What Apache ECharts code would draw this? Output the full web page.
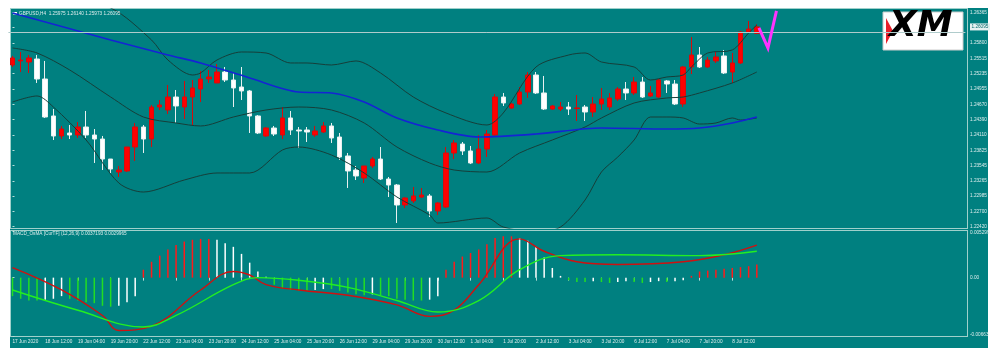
<!DOCTYPE html>
<html><head><meta charset="utf-8">
<script src="https://cdn.jsdelivr.net/npm/echarts@6/dist/echarts.min.js"></script>
<style>
html,body{margin:0;padding:0;background:#fff;}
#bg{position:absolute;left:10px;top:8px;width:978px;height:340px;background:#008080;}
.frame{position:absolute;border:1px solid #9fd0cb;box-sizing:border-box;}
#main{position:absolute;left:0;top:0;width:1000px;height:364px;}
</style></head><body>
<div id="bg"></div>
<div class="frame" style="left:10px;top:8px;width:958px;height:221px"></div>
<div class="frame" style="left:10px;top:230px;width:958px;height:107px"></div>
<div id="main"></div>
<script>
// ---- data ----
const tickLabels = ['17 Jun 2020','18 Jun 12:00','19 Jun 04:00','19 Jun 20:00','22 Jun 12:00','23 Jun 04:00','23 Jun 20:00','24 Jun 12:00','25 Jun 04:00','25 Jun 20:00','26 Jun 12:00','29 Jun 04:00','29 Jun 20:00','30 Jun 12:00','1 Jul 04:00','1 Jul 20:00','2 Jul 12:00','3 Jul 04:00','3 Jul 20:00','6 Jul 12:00','7 Jul 04:00','7 Jul 20:00','8 Jul 12:00'];
const barsPerTick = 4;
const slotCount = 117;
const priceTicks = [1.26365,1.25800,1.25515,1.25235,1.24955,1.24670,1.24390,1.24110,1.23825,1.23545,1.23265,1.22985,1.22700,1.22420];
const currentPrice = 1.26095;
const macdTicks = [0.005299, 0, -0.00663];

const opens  = [1.25395,1.25469,1.25450,1.25505,1.25137,1.24457,1.24089,1.24144,1.24107,1.24254,1.24107,1.24033,1.23665,1.23426,1.23445,1.23886,1.24254,1.24033,1.24622,1.24567,1.24806,1.24622,1.24806,1.24953,1.25137,1.25064,1.25266,1.25119,1.24990,1.24917,1.24457,1.24089,1.24236,1.24107,1.24420,1.24199,1.24199,1.24107,1.24162,1.24273,1.24070,1.23721,1.23463,1.23316,1.23537,1.23665,1.23297,1.23187,1.22819,1.22893,1.22966,1.22985,1.22709,1.22782,1.23776,1.23941,1.23813,1.23592,1.23849,1.24107,1.24806,1.24604,1.24677,1.24898,1.25211,1.24880,1.24585,1.24585,1.24622,1.24595,1.24622,1.24530,1.24677,1.24622,1.24769,1.24953,1.24880,1.25082,1.24825,1.24806,1.25101,1.25045,1.24677,1.25358,1.25579,1.25358,1.25469,1.25561,1.25266,1.25432,1.26002,1.25975];
const closes = [1.25524,1.25487,1.25524,1.25137,1.24438,1.24089,1.24217,1.24107,1.24254,1.24107,1.24033,1.23665,1.23481,1.23463,1.23886,1.24254,1.24033,1.24622,1.24659,1.24806,1.24641,1.24806,1.24972,1.25137,1.25174,1.25266,1.25119,1.24972,1.24917,1.24457,1.24144,1.24236,1.24125,1.24420,1.24199,1.24181,1.24162,1.24181,1.24273,1.24052,1.23702,1.23445,1.23353,1.23537,1.23665,1.23297,1.23187,1.22819,1.22948,1.22985,1.23003,1.22709,1.22856,1.23776,1.23960,1.23813,1.23592,1.23849,1.24125,1.24806,1.24696,1.24677,1.24898,1.25211,1.24880,1.24585,1.24641,1.24622,1.24585,1.24604,1.24530,1.24677,1.24769,1.24788,1.24953,1.24880,1.25082,1.24806,1.24880,1.25119,1.25045,1.24677,1.25358,1.25579,1.25358,1.25487,1.25542,1.25248,1.25432,1.26002,1.26057,1.26095];
const lows   = [1.25358,1.25266,1.25248,1.25064,1.24420,1.24015,1.24033,1.24033,1.24052,1.24052,1.23592,1.23463,1.23408,1.23334,1.23426,1.23629,1.23776,1.23886,1.24567,1.24493,1.24328,1.24401,1.24291,1.24714,1.25064,1.25064,1.25082,1.24622,1.24751,1.24144,1.24125,1.24070,1.24089,1.24033,1.24107,1.23868,1.23978,1.24070,1.24144,1.23960,1.23647,1.23132,1.23279,1.23224,1.23500,1.23279,1.22966,1.22488,1.22764,1.22856,1.22948,1.22598,1.22635,1.22764,1.23665,1.23739,1.23573,1.23573,1.23702,1.24070,1.24641,1.24585,1.24659,1.24788,1.24861,1.24567,1.24567,1.24549,1.24475,1.24365,1.24365,1.24438,1.24567,1.24567,1.24733,1.24751,1.24843,1.24788,1.24806,1.24788,1.24880,1.24659,1.24622,1.25229,1.25340,1.25340,1.25432,1.25229,1.25064,1.25413,1.25984,1.25973];
const highs  = [1.25561,1.25634,1.25579,1.25579,1.25469,1.24585,1.24273,1.24291,1.24346,1.24549,1.24217,1.24089,1.23665,1.23537,1.23886,1.24328,1.24291,1.24659,1.24751,1.25027,1.24935,1.25101,1.25119,1.25285,1.25303,1.25413,1.25358,1.25248,1.25358,1.24935,1.24475,1.24254,1.24273,1.24622,1.24549,1.24254,1.24254,1.24273,1.24346,1.24328,1.24144,1.23776,1.23537,1.23537,1.23702,1.23886,1.23334,1.23205,1.22966,1.23150,1.23132,1.23021,1.22874,1.23886,1.24015,1.23978,1.23905,1.24107,1.24199,1.24861,1.24880,1.24696,1.24990,1.25266,1.25266,1.25193,1.24659,1.24714,1.24714,1.24843,1.24659,1.24806,1.24972,1.24880,1.24990,1.25082,1.25174,1.25174,1.25009,1.25137,1.25119,1.25119,1.25377,1.25910,1.25726,1.25542,1.25634,1.25671,1.25616,1.26021,1.26205,1.26140];

// indicator lines: [bar index, value]
const bandUpper = [[0,1.26702],[6,1.2660],[12,1.26444],[17,1.25855],[19,1.25487],[22,1.25211],[23,1.25248],[25,1.25487],[28,1.25634],[31,1.25616],[34,1.25432],[36,1.25432],[39,1.25395],[42,1.25469],[45,1.25248],[49,1.24806],[53,1.24512],[58,1.24291],[60,1.24512],[64,1.25358],[68,1.25579],[70,1.25616],[72,1.25450],[76,1.25358],[78,1.25119],[80,1.25174],[82,1.25211],[83,1.25358],[85,1.25616],[88,1.25671],[90,1.25984],[91,1.26131]];
const bandMiddle = [[0,1.25708],[3,1.25616],[7,1.25303],[12,1.24806],[16,1.24438],[20,1.24328],[23,1.24273],[27,1.24438],[31,1.24567],[35,1.24622],[39,1.24567],[43,1.24328],[47,1.23886],[51,1.23592],[54,1.23463],[58,1.23426],[62,1.23776],[66,1.24015],[70,1.24254],[72,1.24420],[76,1.24696],[80,1.24788],[82,1.24806],[84,1.24880],[88,1.25064],[91,1.25266]];
const bandLower = [[0,1.24714],[3,1.24825],[5,1.24622],[9,1.24015],[13,1.23224],[16,1.23058],[21,1.23279],[25,1.23408],[29,1.23408],[33,1.23831],[35,1.23886],[39,1.23739],[43,1.23408],[47,1.22966],[51,1.22635],[52,1.22488],[58,1.22580],[60,1.22414],[64,1.22322],[67,1.22414],[70,1.22911],[72,1.23426],[74,1.23702],[76,1.24015],[78,1.24438],[80,1.24438],[82,1.24420],[84,1.24309],[86,1.24328],[88,1.24420],[89,1.24383],[91,1.24420]];
const maBlue = [[0,1.26352],[12,1.25855],[19,1.25579],[23,1.25432],[29,1.25156],[35,1.24898],[39,1.24880],[43,1.24714],[47,1.24420],[52,1.24199],[57,1.24070],[64,1.24125],[72,1.24236],[80,1.24217],[84,1.24236],[88,1.24328],[91,1.24438]];
const arrowPath = [[91.26,1.26076],[92.36,1.25708],[93.4,1.26390]];

const histogram = [-0.0021,-0.0024,-0.0026,-0.0026,-0.0025,-0.0024,-0.0021,-0.0024,-0.0026,-0.0028,-0.0029,-0.0032,-0.0033,-0.0032,-0.0028,-0.0021,
0.0009,0.0018,0.0025,0.0032,0.0037,0.0041,0.0043,0.0044,0.0044,0.0043,0.0039,0.0035,0.0027,0.0017,0.0007,0.0001,
-0.0008,-0.0012,-0.0014,-0.0015,-0.0015,-0.0014,-0.0013,-0.0013,-0.0015,-0.0017,-0.0019,-0.0020,-0.0019,-0.0020,-0.0021,-0.0024,-0.0025,-0.0026,-0.0026,-0.0025,-0.0021,
0.0009,0.0018,0.0024,0.0028,0.0032,0.0038,0.0045,0.0047,0.0047,0.0045,0.0042,0.0035,0.0023,0.0011,0.0002,
-0.0003,-0.0005,-0.0005,-0.0004,-0.0005,-0.0006,-0.0005,-0.0004,-0.0005,-0.0006,-0.0005,-0.0004,-0.0005,-0.0004,-0.0003,
0.0002,0.0007,0.0008,0.0009,0.0010,0.0011,0.0012,0.0013,0.0015];
const macdMain = [[0,0.00113],[6,-0.0014],[11,-0.0043],[13,-0.0060],[17,-0.0055],[23,-0.0014],[27,0.0007],[29,0.0003],[31,-0.0008],[35,-0.0014],[41,-0.0020],[47,-0.0031],[51,-0.0044],[54,-0.0037],[57,-0.0008],[62,0.0044],[65,0.0030],[69,0.0018],[74,0.0015],[82,0.0018],[87,0.0026],[91,0.0037]];
const macdSignal = [[0,-0.0014],[8,-0.0037],[16,-0.0056],[20,-0.0043],[27,-0.0008],[30,0],[35,-0.0003],[41,-0.0011],[47,-0.0026],[52,-0.0039],[57,-0.0026],[62,0.0009],[67,0.0025],[74,0.0026],[84,0.0025],[91,0.0030]];

// ---- chart ----
const FONT = 'Liberation Sans';
const TXT = '#dcecec';
const FS = 4.7;
const slots = Array.from({length: slotCount}, (_, i) => String(i));
const candleData = opens.map((o, i) => [o, closes[i], lows[i], highs[i]]);
const histItems = histogram.map((v, i) => {
  const prev = i > 0 ? histogram[i - 1] : v;
  let c;
  if (v >= 0) c = v >= prev ? '#ff1a1a' : '#ffffff';
  else c = v <= prev ? '#22dd22' : '#ffffff';
  return {value: v, itemStyle: {color: c}};
});
const isTick = i => i % barsPerTick === 0 && i / barsPerTick < tickLabels.length;

const chart = echarts.init(document.getElementById('main'), null, {renderer: 'canvas', width: 1000, height: 364});
const gridL = 8.4, gridW = 957;
chart.setOption({
  animation: false,
  backgroundColor: 'transparent',
  textStyle: {fontFamily: FONT},
  title: [
    {text: 'GBPUSD,H4  1.25975 1.26140 1.25973 1.26095', left: 19, top: 11, padding: 0,
     textStyle: {fontSize: FS, color: TXT, fontWeight: 'normal', fontFamily: FONT}},
    {text: 'MACD_OsMA [CurTF] (12,26,9) 0.0037193 0.0029965', left: 13, top: 231, padding: 0,
     textStyle: {fontSize: FS, color: TXT, fontWeight: 'normal', fontFamily: FONT}}
  ],
  grid: [
    {left: gridL, top: 9, width: gridW, height: 219},
    {left: gridL, top: 231, width: gridW, height: 105}
  ],
  xAxis: [
    {type: 'category', gridIndex: 0, data: slots, boundaryGap: true, show: false},
    {type: 'value', gridIndex: 0, min: -0.5, max: slotCount - 0.5, show: false},
    {type: 'category', gridIndex: 1, data: slots, boundaryGap: true,
     axisLine: {show: false},
     axisTick: {show: true, alignWithLabel: true, interval: (i) => isTick(i), length: 3, lineStyle: {color: '#b8dcd8'}},
     axisLabel: {interval: (i) => isTick(i), formatter: (v, i) => tickLabels[i / barsPerTick], align: 'left',
       margin: 3.5, fontSize: FS, color: TXT, fontFamily: FONT}},
    {type: 'value', gridIndex: 1, min: -0.5, max: slotCount - 0.5, show: false}
  ],
  yAxis: [
    {type: 'value', gridIndex: 0, position: 'right', offset: 1.6, min: 1.22396, max: 1.26425, scale: true,
     splitLine: {show: false}, axisLine: {show: false},
     axisTick: {show: true, length: 2, customValues: priceTicks.concat([currentPrice]), lineStyle: {color: '#b8dcd8'}},
     axisLabel: {customValues: priceTicks.concat([currentPrice]), margin: 3, fontSize: FS, color: TXT, fontFamily: FONT,
       formatter: v => v === currentPrice ? '{cur|' + v.toFixed(5) + '}' : v.toFixed(5),
       rich: {cur: {backgroundColor: '#e6f2f2', color: '#006a6a', fontSize: FS, padding: [1, 1.5, 1, 1.5], fontFamily: FONT}}}},
    {type: 'value', gridIndex: 1, position: 'right', offset: 1.6, min: -0.00663, max: 0.005299,
     splitLine: {show: false}, axisLine: {show: false},
     axisTick: {show: true, length: 2, customValues: macdTicks, lineStyle: {color: '#b8dcd8'}},
     axisLabel: {customValues: macdTicks, margin: 3, fontSize: FS, color: TXT, fontFamily: FONT,
       formatter: v => v === 0 ? '0.00' : (v > 0 ? '{t|' + v + '}' : '{b|' + v + '}'),
       rich: {t: {fontSize: FS, color: TXT, padding: [3.5, 0, 0, 0]}, b: {fontSize: FS, color: TXT, padding: [0, 0, 3, 0]}}}}
  ],
  series: [
    {type: 'candlestick', xAxisIndex: 0, yAxisIndex: 0, data: candleData, barWidth: 5,
     itemStyle: {color: '#ff0000', color0: '#ffffff', borderColor: '#d80a0a', borderColor0: '#e8f0f0', borderWidth: 1},
     markLine: {silent: true, symbol: ['none', 'none'], label: {show: false},
       lineStyle: {color: '#b0cccc', width: 1, type: 'solid'}, data: [{yAxis: currentPrice}]}},
    {type: 'line', xAxisIndex: 1, yAxisIndex: 0, data: bandUpper, showSymbol: false, smooth: 0.3,
     lineStyle: {color: '#163e39', width: 1}},
    {type: 'line', xAxisIndex: 1, yAxisIndex: 0, data: bandMiddle, showSymbol: false, smooth: 0.3,
     lineStyle: {color: '#163e39', width: 1}},
    {type: 'line', xAxisIndex: 1, yAxisIndex: 0, data: bandLower, showSymbol: false, smooth: 0.3,
     lineStyle: {color: '#163e39', width: 1}},
    {type: 'line', xAxisIndex: 1, yAxisIndex: 0, data: maBlue, showSymbol: false, smooth: 0.3,
     lineStyle: {color: '#1424d4', width: 1.6}},
    {type: 'lines', coordinateSystem: 'cartesian2d', xAxisIndex: 1, yAxisIndex: 0, polyline: true, z: 10,
     symbol: ['none', 'arrow'], symbolSize: 9,
     lineStyle: {color: '#ff33ff', width: 3, opacity: 1},
     data: [{coords: arrowPath}]},
    {type: 'bar', xAxisIndex: 2, yAxisIndex: 1, data: histItems, barWidth: 1.5},
    {type: 'line', xAxisIndex: 3, yAxisIndex: 1, data: macdMain, showSymbol: false, smooth: 0.4,
     lineStyle: {color: '#d01010', width: 1.4}},
    {type: 'line', xAxisIndex: 3, yAxisIndex: 1, data: macdSignal, showSymbol: false, smooth: 0.4,
     lineStyle: {color: '#22ee22', width: 1.4}}
  ],
  graphic: [
    {type: 'rect', shape: {x: 13, y: 12, width: 4, height: 2.5}, style: {fill: '#ffffff'}},
    {type: 'rect', shape: {x: 883, y: 12, width: 80, height: 38}, style: {fill: '#ffffff', stroke: '#cccccc', lineWidth: 1}},
    {type: 'polygon', shape: {points: [[886, 18], [893, 31], [886, 44]]}, style: {fill: '#e8202a'}},
    {type: 'text', x: 889, y: 9, style: {text: 'XM', font: 'italic bold 36px "DejaVu Sans"', fill: '#000000', verticalAlign: 'top'}}
  ]
});
</script>
</body></html>
